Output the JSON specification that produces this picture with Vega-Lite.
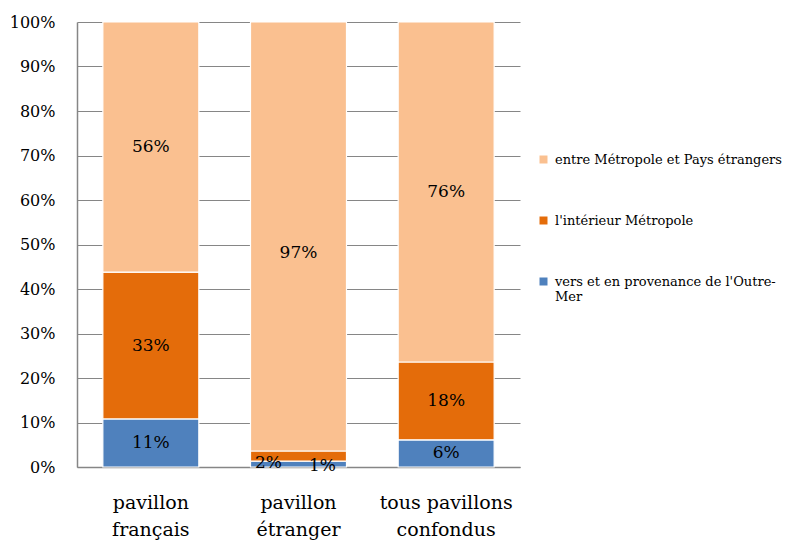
{
  "$schema": "https://vega.github.io/schema/vega-lite/v6.json",
  "width": 443,
  "height": 445,
  "autosize": {"type": "none"},
  "padding": {"left": 77, "top": 22, "right": 276, "bottom": 73},
  "background": "white",
  "config": {
    "font": "DejaVu Serif",
    "view": {"stroke": null},
    "text": {"font": "DejaVu Serif"},
    "axis": {"labelFont": "DejaVu Serif", "labelColor": "#000"},
    "legend": {"labelFont": "DejaVu Serif"}
  },
  "data": {
    "values": [
      {"pavillon": "pavillon français", "trafic": "vers et en provenance de l'Outre-Mer", "ordre": 1, "valeur": 10.8, "label": "11%"},
      {"pavillon": "pavillon français", "trafic": "l'intérieur Métropole", "ordre": 2, "valeur": 33.0, "label": "33%"},
      {"pavillon": "pavillon français", "trafic": "entre Métropole et Pays étrangers", "ordre": 3, "valeur": 56.2, "label": "56%"},
      {"pavillon": "pavillon étranger", "trafic": "vers et en provenance de l'Outre-Mer", "ordre": 1, "valeur": 1.3, "label": "1%"},
      {"pavillon": "pavillon étranger", "trafic": "l'intérieur Métropole", "ordre": 2, "valeur": 2.3, "label": "2%"},
      {"pavillon": "pavillon étranger", "trafic": "entre Métropole et Pays étrangers", "ordre": 3, "valeur": 96.4, "label": "97%"},
      {"pavillon": "tous pavillons confondus", "trafic": "vers et en provenance de l'Outre-Mer", "ordre": 1, "valeur": 6.1, "label": "6%"},
      {"pavillon": "tous pavillons confondus", "trafic": "l'intérieur Métropole", "ordre": 2, "valeur": 17.5, "label": "18%"},
      {"pavillon": "tous pavillons confondus", "trafic": "entre Métropole et Pays étrangers", "ordre": 3, "valeur": 76.4, "label": "76%"}
    ]
  },
  "encoding": {
    "x": {
      "field": "pavillon",
      "type": "nominal",
      "sort": null,
      "scale": {"paddingInner": 0.35, "paddingOuter": 0.175},
      "axis": {
        "title": null,
        "labelAngle": 0,
        "labelFont": "DejaVu Serif",
        "labelFontSize": 19,
        "labelPadding": 35,
        "labelBaseline": "middle",
        "labelLineHeight": 27,
        "labelExpr": "datum.label == 'pavillon français' ? ['pavillon', 'français'] : datum.label == 'pavillon étranger' ? ['pavillon', 'étranger'] : ['tous pavillons', 'confondus']",
        "ticks": false,
        "domainColor": "#868686",
        "domainWidth": 1.5,
        "grid": false
      }
    }
  },
  "layer": [
    {
      "mark": {"type": "bar", "stroke": "white", "strokeWidth": 1.2},
      "encoding": {
        "y": {
          "field": "valeur",
          "type": "quantitative",
          "stack": "zero",
          "scale": {"domain": [0, 100], "nice": false},
          "axis": {
            "title": null,
            "values": [0, 10, 20, 30, 40, 50, 60, 70, 80, 90, 100],
            "labelExpr": "datum.value + '%'",
            "labelFont": "DejaVu Serif",
            "labelFontSize": 16,
            "labelPadding": 22,
            "ticks": false,
            "domainColor": "#868686",
            "domainWidth": 1.5,
            "gridColor": "#868686",
            "gridWidth": 1
          }
        },
        "color": {
          "field": "trafic",
          "type": "nominal",
          "scale": {
            "domain": ["entre Métropole et Pays étrangers", "l'intérieur Métropole", "vers et en provenance de l'Outre-Mer"],
            "range": ["#FAC090", "#E46C0A", "#4F81BD"]
          },
          "legend": {
            "title": null,
            "orient": "none",
            "legendX": 460,
            "legendY": 131,
            "symbolType": "square",
            "symbolSize": 64,
            "symbolStrokeWidth": 0,
            "labelFontSize": 13,
            "labelFont": "DejaVu Serif",
            "labelColor": "#000",
            "labelLimit": 300,
            "rowPadding": 47,
            "labelOffset": 5,
            "labelExpr": "datum.label == \"vers et en provenance de l'Outre-Mer\" ? [\"vers et en provenance de l'Outre-\", \"Mer\"] : datum.label"
          }
        },
        "order": {"field": "ordre", "type": "quantitative", "sort": "ascending"}
      }
    },
    {
      "transform": [{"filter": "datum.pavillon != 'pavillon étranger' || datum.ordre == 3"}],
      "mark": {"type": "text", "font": "DejaVu Serif", "fontSize": 17, "color": "#000", "baseline": "middle"},
      "encoding": {
        "y": {"field": "valeur", "type": "quantitative", "stack": "zero", "bandPosition": 0.5},
        "text": {"field": "label"},
        "order": {"field": "ordre", "type": "quantitative", "sort": "ascending"}
      }
    },
    {
      "transform": [{"filter": "datum.pavillon == 'pavillon étranger'"}, {"filter": "datum.ordre == 2"}],
      "mark": {"type": "text", "font": "DejaVu Serif", "fontSize": 17, "color": "#000", "baseline": "middle", "dx": -30, "dy": 1},
      "encoding": {
        "y": {"field": "valeur", "type": "quantitative", "stack": "zero", "bandPosition": 0.5},
        "text": {"field": "label"}
      }
    },
    {
      "transform": [{"filter": "datum.pavillon == 'pavillon étranger'"}, {"filter": "datum.ordre == 1"}],
      "mark": {"type": "text", "font": "DejaVu Serif", "fontSize": 17, "color": "#000", "baseline": "middle", "dx": 24, "dy": 2},
      "encoding": {
        "y": {"field": "valeur", "type": "quantitative", "stack": "zero", "bandPosition": 0.5},
        "text": {"field": "label"}
      }
    }
  ]
}
